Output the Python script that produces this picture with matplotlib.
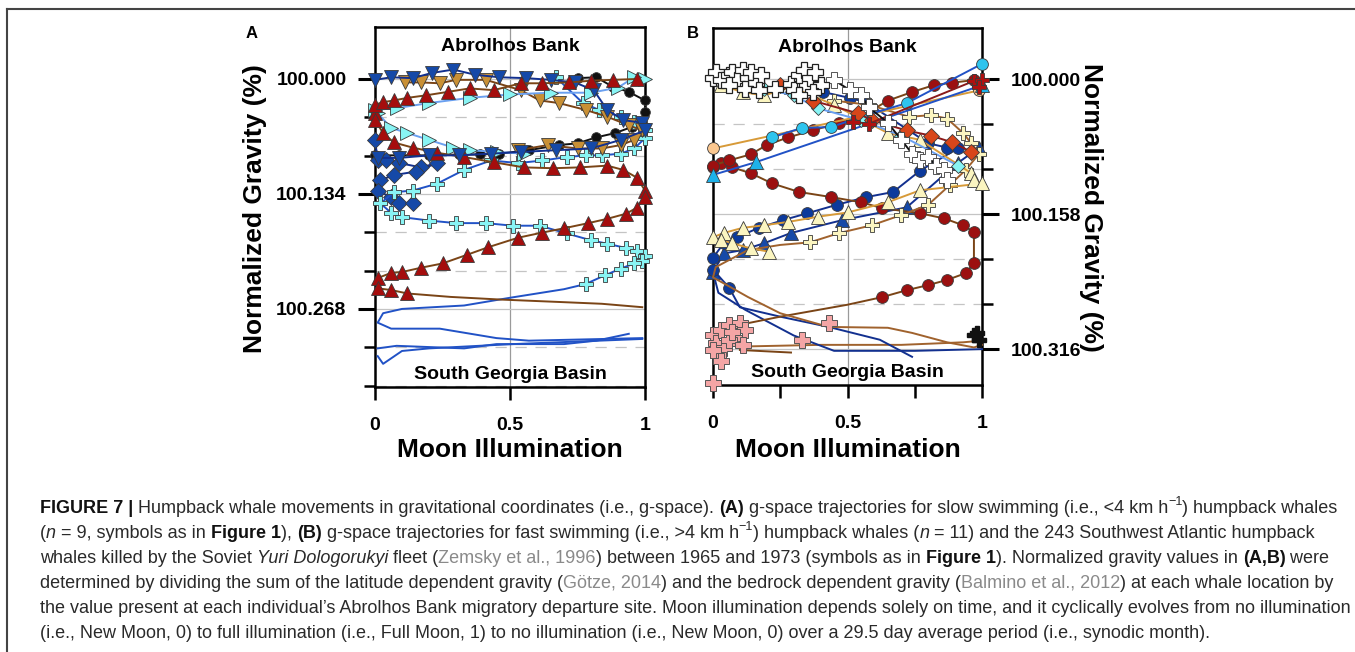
import matplotlib
matplotlib.use("Agg")
import matplotlib.pyplot as plt
from matplotlib import font_manager
from matplotlib.lines import Line2D
from matplotlib.font_manager import FontProperties

plt.rcParams['font.family'] = ['Liberation Sans', 'DejaVu Sans']

# ---------------- panel A: slow swimming whales ----------------
A_black_x = [0.0, 0.09, 0.20, 0.31, 0.39, 0.46, 0.57, 0.68, 0.75, 0.82, 0.89, 0.95, 0.99, 1.0, 1.0, 0.94, 0.88, 0.82, 0.75]
A_black_g = [100.089, 100.089, 100.089, 100.088, 100.088, 100.087, 100.083, 100.077, 100.075, 100.068, 100.063,
             100.056, 100.050, 100.039, 100.025, 100.015, 100.009, 99.998, 99.999]

A_bluev_x = [0.0, 0.06, 0.14, 0.21, 0.29, 0.37, 0.46, 0.56, 0.65, 0.74, 0.81, 0.86, 0.92, 0.99, 1.0, 0.91, 0.80,
             0.67, 0.54, 0.43, 0.31, 0.20, 0.09, 0.01]
A_bluev_g = [100.001, 99.998, 99.999, 99.993, 99.989, 99.995, 99.998, 99.999, 100.001, 100.004, 100.013, 100.036,
             100.048, 100.051, 100.060, 100.071, 100.081, 100.083, 100.085, 100.087, 100.089, 100.089, 100.092, 100.092]

A_gold_x = [0.11, 0.17, 0.24, 0.30, 0.41, 0.54, 0.61, 0.68, 0.78, 0.86, 0.94, 0.99, 0.96, 0.91, 0.84, 0.75, 0.64, 0.53]
A_gold_g = [100.004, 100.004, 100.005, 100.001, 100.001, 100.013, 100.025, 100.028, 100.036, 100.044, 100.054,
            100.060, 100.071, 100.077, 100.081, 100.081, 100.077, 100.083]

A_red1_x = [0.0, 0.03, 0.07, 0.12, 0.19, 0.27, 0.35, 0.44, 0.54, 0.62, 0.72, 0.80, 0.88, 0.97]
A_red1_g = [100.030, 100.027, 100.025, 100.022, 100.019, 100.015, 100.011, 100.013, 100.005, 100.005, 100.004,
            100.002, 100.001, 100.000]

A_red2_x = [0.0, 0.0, 0.03, 0.07, 0.14, 0.23, 0.33, 0.44, 0.55, 0.66, 0.76, 0.86, 0.92, 0.97, 1.0, 1.0, 0.97, 0.93,
            0.86, 0.79, 0.70, 0.62, 0.53, 0.42, 0.34, 0.25, 0.17, 0.10, 0.06, 0.01, 0.01, 0.06, 0.12,
            0.28, 0.46, 0.69, 0.84, 0.99]
A_red2_g = [100.040, 100.048, 100.063, 100.074, 100.080, 100.086, 100.091, 100.097, 100.103, 100.104, 100.103,
            100.101, 100.106, 100.115, 100.130, 100.138, 100.150, 100.157, 100.163, 100.168, 100.174, 100.179,
            100.185, 100.196, 100.205, 100.215, 100.220, 100.225, 100.226, 100.232, 100.244, 100.246, 100.250,
            100.254, 100.257, 100.260, 100.262, 100.266]
A_red2_marked = 33

A_cyantri_x = [1.0, 0.96, 0.90, 0.80, 0.65, 0.50, 0.35, 0.20, 0.08, 0.0, 0.01, 0.06, 0.12, 0.20, 0.29, 0.35, 0.45, 0.55]
A_cyantri_g = [100.000, 99.998, 100.010, 100.016, 100.016, 100.018, 100.022, 100.028, 100.034, 100.036, 100.040,
               100.057, 100.063, 100.071, 100.080, 100.083, 100.085, 100.087]

A_cyanp_x = [0.67, 0.77, 0.83, 0.91, 0.96, 1.0, 1.0, 0.96, 0.91, 0.84, 0.78, 0.71, 0.62, 0.53, 0.43, 0.33, 0.23,
             0.14, 0.07, 0.02, 0.06, 0.10, 0.20, 0.30, 0.41, 0.51, 0.61, 0.71, 0.80, 0.86, 0.93, 0.97, 1.0, 0.99,
             0.96, 0.91, 0.85, 0.78,
             0.70, 0.50, 0.33, 0.10, 0.03, 0.01, 0.06, 0.24, 0.45, 0.57, 0.99]
A_cyanp_g = [99.998, 100.028, 100.036, 100.044, 100.050, 100.060, 100.069, 100.081, 100.087, 100.089, 100.089,
             100.091, 100.095, 100.098, 100.095, 100.106, 100.122, 100.130, 100.132, 100.145, 100.156, 100.161,
             100.165, 100.168, 100.168, 100.171, 100.171, 100.180, 100.188, 100.192, 100.197, 100.200, 100.206,
             100.212, 100.215, 100.221, 100.229, 100.239,
             100.245, 100.255, 100.264, 100.268, 100.273, 100.284, 100.291, 100.291, 100.302, 100.305, 100.302]
A_cyanp_marked = 38

A_diam_x = [0.0, 0.01, 0.04, 0.09, 0.17, 0.23, 0.15, 0.07, 0.02, 0.01, 0.06, 0.09, 0.14]
A_diam_g = [100.071, 100.095, 100.095, 100.098, 100.103, 100.098, 100.108, 100.112, 100.118, 100.130, 100.138,
            100.144, 100.145]

A_tail2_x = [0.01, 0.08, 0.33, 0.45, 0.70, 0.82, 0.94]
A_tail2_g = [100.314, 100.311, 100.314, 100.309, 100.309, 100.305, 100.297]
A_tail3_x = [0.01, 0.03, 0.10, 0.20, 0.51, 0.99]
A_tail3_g = [100.323, 100.332, 100.317, 100.314, 100.309, 100.303]

# ---------------- panel B: fast swimming whales and Soviet catches ----------------
B_white_x = [0.0, 0.01, 0.03, 0.06, 0.07, 0.09, 0.11, 0.13, 0.14, 0.16, 0.18, 0.06, 0.12, 0.17, 0.23, 0.29, 0.30,
             0.32, 0.34, 0.36, 0.38, 0.40, 0.37, 0.32]
B_white_g = [99.998, 99.992, 100.001, 99.995, 99.992, 100.001, 99.989, 99.998, 99.992, 100.004, 99.995, 100.007,
             100.011, 100.013, 100.011, 100.005, 100.013, 99.995, 99.989, 99.999, 99.992, 100.007, 100.015, 100.019]
B_wdiag_x = [0.45, 0.51, 0.55, 0.58, 0.65, 0.70, 0.74, 0.77, 0.80, 0.83, 0.86, 0.87]
B_wdiag_g = [100.001, 100.013, 100.019, 100.033, 100.051, 100.071, 100.087, 100.095, 100.091, 100.101, 100.106,
             100.118]

B_ytri_x = [0.03, 0.11, 0.19, 0.29, 0.45, 0.65, 0.77, 0.96, 0.97, 1.0, 0.77, 0.65, 0.50, 0.39, 0.28, 0.19, 0.11,
            0.04, 0.0, 0.03, 0.07, 0.14, 0.21]
B_ytri_g = [100.007, 100.015, 100.019, 100.009, 100.030, 100.063, 100.071, 100.110, 100.118, 100.122, 100.130,
            100.144, 100.156, 100.161, 100.167, 100.171, 100.174, 100.180, 100.185, 100.188, 100.192, 100.198,
            100.202]

B_yplus_x = [0.45, 0.58, 0.73, 0.81, 0.87, 0.93, 0.96, 0.99, 0.94, 0.88, 0.80, 0.70, 0.59, 0.47, 0.36,
             0.25, 0.13, 0.01, 0.0, 0.04, 0.13, 0.25, 0.43, 0.65, 0.74, 0.87, 0.97, 1.0]
B_yplus_g = [100.025, 100.030, 100.044, 100.042, 100.046, 100.063, 100.075, 100.087, 100.106, 100.124, 100.147,
             100.159, 100.171, 100.180, 100.191,
             100.194, 100.200, 100.220, 100.232, 100.239, 100.255, 100.274, 100.290, 100.291, 100.297, 100.308,
             100.314, 100.311]
B_yplus_marked = 15

B_red1_x = [0.0, 0.03, 0.07, 0.14, 0.22, 0.32, 0.44, 0.55, 0.63, 0.77, 0.86, 0.93, 0.97, 0.97, 0.94, 0.87, 0.80,
            0.72, 0.63, 0.50, 0.25, 0.06, 0.01]
B_red1_g = [100.103, 100.098, 100.103, 100.110, 100.122, 100.132, 100.138, 100.144, 100.151, 100.157, 100.163,
            100.171, 100.179, 100.215, 100.227, 100.235, 100.241, 100.247, 100.255, 100.264, 100.278, 100.290,
            100.297]
B_red1_marked = 19

B_red2_x = [0.0, 0.06, 0.14, 0.20, 0.28, 0.37, 0.47, 0.55, 0.65, 0.74, 0.82, 0.89, 0.97]
B_red2_g = [100.101, 100.095, 100.088, 100.077, 100.068, 100.060, 100.051, 100.044, 100.025, 100.015, 100.007,
            100.004, 100.001]

B_cyanc_x = [0.22, 0.33, 0.44, 0.55, 0.72, 1.0]
B_cyanc_g = [100.068, 100.057, 100.056, 100.044, 100.028, 99.982]

B_cyant_x = [0.0, 0.16, 1.0]
B_cyant_g = [100.112, 100.097, 100.007]

B_peach_x = [0.0, 0.99]
B_peach_g = [100.081, 100.013]

B_odiam_x = [0.25, 0.37, 0.54, 0.59, 0.72, 0.81, 0.89, 0.96]
B_odiam_g = [100.007, 100.025, 100.040, 100.048, 100.060, 100.066, 100.074, 100.085]

B_redp_x = [0.52, 0.58, 0.97, 1.0, 0.99]
B_redp_g = [100.050, 100.052, 100.002, 100.001, 100.009]

B_lcd_x = [0.19, 0.30, 0.39, 0.55, 0.70, 0.91]
B_lcd_g = [100.011, 100.019, 100.034, 100.048, 100.066, 100.101]

B_navy_x = [0.41, 0.51, 0.57, 0.80, 0.87, 0.91, 0.77, 0.67, 0.57, 0.46, 0.35, 0.26, 0.17, 0.09, 0.04, 0.0, 0.0,
            0.06, 0.10, 0.25, 0.43, 0.62, 0.74]
B_navy_g = [100.015, 100.022, 100.027, 100.075, 100.080, 100.081, 100.107, 100.132, 100.138, 100.147, 100.157,
            100.165, 100.174, 100.185, 100.192, 100.209, 100.223, 100.244, 100.267, 100.278, 100.290, 100.305,
            100.325]
B_navy_marked = 18

B_btri_x = [0.99, 0.91, 0.72, 0.48, 0.29, 0.19, 0.11, 0.04, 0.0, 0.02, 0.12, 0.30, 0.45, 0.75, 1.0]
B_btri_g = [100.080, 100.098, 100.150, 100.165, 100.180, 100.192, 100.200, 100.204, 100.226, 100.250, 100.270,
            100.300, 100.318, 100.318, 100.316]
B_btri_marked = 9

B_pink_x = [0.0, 0.01, 0.03, 0.04, 0.06, 0.08, 0.10, 0.12, 0.02, 0.0, 0.06, 0.03, 0.11, 0.07, 0.33, 0.43, 0.0]
B_pink_g = [100.300, 100.309, 100.294, 100.315, 100.288, 100.303, 100.285, 100.294, 100.323, 100.317, 100.305,
            100.330, 100.311, 100.296, 100.305, 100.285, 100.356]

B_blackp_x = [0.97, 0.99, 0.98]
B_blackp_g = [100.300, 100.305, 100.297]

B_brown1_x = [0.10, 0.40, 0.70, 0.93, 1.0]
B_brown1_g = [100.313, 100.311, 100.311, 100.308, 100.306]
B_brown2_x = [0.10, 0.29]
B_brown2_g = [100.317, 100.320]

# axis ticks
A_major = [100.000, 100.134, 100.268]
A_minor = [100.0447, 100.0893, 100.1787, 100.2233, 100.3127, 100.3573]
B_major = [100.000, 100.158, 100.316]
B_minor = [100.0527, 100.1053, 100.2107, 100.2633]

W, H = 1355, 652
fig = plt.figure(figsize=(W / 100, H / 100), dpi=100)

axA = fig.add_axes([375 / W, 1 - 387 / H, 270 / W, 360 / H])
axB = fig.add_axes([713 / W, 1 - 385 / H, 269 / W, 357 / H])

EDGE = '#3a3a3a'


def trace(ax, x, g, line, face=None, marker=None, ms=9.5, marked=None, lw=1.4, z=3):
    if marker is None:
        ax.plot(x, g, color=line, lw=lw, zorder=z)
        return
    n = len(x) if marked is None else marked
    ax.plot(x, g, color=line, lw=lw, marker=marker, ms=ms, mfc=face, mec=EDGE, mew=0.6,
            markevery=slice(0, n), zorder=z, clip_on=False)


def frame(ax, ylim, major, minor, right=False, xminor=False):
    ax.set_xlim(0, 1)
    ax.set_ylim(ylim[1], ylim[0])
    ax.axvline(0.5, color='#9a9a9a', lw=0.9, zorder=0)
    for m in major:
        ax.axhline(m, color='#c4c4c4', lw=0.9, zorder=0)
    for m in minor:
        ax.axhline(m, color='#c4c4c4', lw=0.9, ls=(0, (9, 7)), zorder=0)
    ax.set_yticks(major)
    ax.set_yticklabels(['%.3f' % v for v in major])
    ax.set_yticks(minor, minor=True)
    if xminor:
        ax.set_xticks([0, 0.25, 0.5, 0.75, 1])
        ax.set_xticklabels(['0', '', '0.5', '', '1'])
    else:
        ax.set_xticks([0, 0.5, 1])
        ax.set_xticklabels(['0', '0.5', '1'])
    for s in ax.spines.values():
        s.set_linewidth(1.8)
    ax.tick_params(axis='y', which='major', direction='out', length=12.5, width=2.2, pad=8,
                   labelsize=14, left=not right, right=right, labelleft=not right, labelright=right)
    ax.tick_params(axis='y', which='minor', direction='out', length=8, width=1.8,
                   left=not right, right=right)
    ax.tick_params(axis='x', which='major', direction='out', length=9.5, width=1.8, pad=12, labelsize=14)
    for t in ax.get_xticklabels() + ax.get_yticklabels():
        t.set_fontweight('bold')


frame(axA, (99.9394, 100.359), A_major, A_minor)
frame(axB, (99.940, 100.358), B_major, B_minor, right=True, xminor=True)

# panel A trajectories
ROYAL, NAVY, BLUE_LN = '#1549a8', '#12308f', '#2152c6'
BROWN, DRED, GOLD = '#7a4416', '#a50d0d', '#c99035'
CYAN, LBLUE = '#88f4f4', '#6aa0f0'

trace(axA, A_tail2_x, A_tail2_g, BLUE_LN)
trace(axA, A_tail3_x, A_tail3_g, BLUE_LN)
trace(axA, A_black_x, A_black_g, '#111111', '#111111', 'o', ms=7)
trace(axA, A_diam_x, A_diam_g, NAVY, ROYAL, 'D', ms=8.5)
trace(axA, A_cyanp_x, A_cyanp_g, BLUE_LN, CYAN, 'P', ms=10, marked=A_cyanp_marked)
trace(axA, A_gold_x, A_gold_g, BROWN, GOLD, 'v', ms=10)
trace(axA, A_cyantri_x, A_cyantri_g, LBLUE, CYAN, '>', ms=9.5)
trace(axA, A_red2_x, A_red2_g, BROWN, DRED, '^', ms=10, marked=A_red2_marked)
trace(axA, A_bluev_x, A_bluev_g, NAVY, ROYAL, 'v', ms=10)
trace(axA, A_red1_x, A_red1_g, BROWN, DRED, '^', ms=10)

# panel B trajectories
PALE, ORANGE_LN, LBROWN = '#fbf5c0', '#d79a38', '#a0622d'
trace(axB, B_brown1_x, B_brown1_g, LBROWN)
trace(axB, B_brown2_x, B_brown2_g, BROWN)
trace(axB, B_btri_x, B_btri_g, NAVY, ROYAL, '^', ms=9.5, marked=B_btri_marked)
trace(axB, B_navy_x, B_navy_g, NAVY, '#0c3a9c', 'o', ms=8.5, marked=B_navy_marked)
trace(axB, B_red1_x, B_red1_g, BROWN, '#9c1010', 'o', ms=8.5, marked=B_red1_marked)
trace(axB, B_yplus_x, B_yplus_g, LBROWN, PALE, 'P', ms=10, marked=B_yplus_marked)
trace(axB, B_ytri_x, B_ytri_g, ORANGE_LN, PALE, '^', ms=10)
trace(axB, B_red2_x, B_red2_g, BROWN, '#9c1010', 'o', ms=8.5)
trace(axB, B_peach_x, B_peach_g, ORANGE_LN, '#fcc890', 'o', ms=8.5)
trace(axB, B_cyant_x, B_cyant_g, BLUE_LN, '#1eb2ea', '^', ms=9.5)
trace(axB, B_cyanc_x, B_cyanc_g, BLUE_LN, '#2ec4ee', 'o', ms=8.5)
trace(axB, B_lcd_x, B_lcd_g, LBLUE, CYAN, 'D', ms=7)
trace(axB, B_odiam_x, B_odiam_g, '#8b1a1a', '#d8461a', 'D', ms=8.5)
trace(axB, B_redp_x, B_redp_g, '#8b1a1a', '#b01010', 'P', ms=10)
trace(axB, B_wdiag_x, B_wdiag_g, '#111111', 'white', 'P', ms=11)
axB.plot(B_white_x, B_white_g, ls='none', marker='P', ms=11, mfc='white', mec='#222222', mew=0.9,
         zorder=4, clip_on=False)
axB.plot(B_pink_x, B_pink_g, ls='none', marker='P', ms=11, mfc='#f4a5a5', mec='#555555', mew=0.7,
         zorder=4, clip_on=False)
axB.plot(B_blackp_x, B_blackp_g, ls='none', marker='P', ms=10, mfc='#111111', mec='#111111',
         zorder=4, clip_on=False)

# region names inside each panel
for ax in (axA, axB):
    ax.text(0.5, 0.945, 'Abrolhos Bank', transform=ax.transAxes, ha='center', va='center',
            fontsize=14, fontweight='bold', zorder=6)
    ax.text(0.5, 0.036, 'South Georgia Basin', transform=ax.transAxes, ha='center', va='center',
            fontsize=14, fontweight='bold', zorder=6)

fig.text(252 / W, 1 - 33 / H, 'A', fontsize=12, fontweight='bold', ha='center', va='center')
fig.text(693 / W, 1 - 33 / H, 'B', fontsize=12, fontweight='bold', ha='center', va='center')
fig.text(255 / W, 1 - 209 / H, 'Normalized Gravity (%)', rotation=90, fontsize=19, fontweight='bold',
         ha='center', va='center')
fig.text(1091 / W, 1 - 207 / H, 'Normalized Gravity (%)', rotation=-90, fontsize=19, fontweight='bold',
         ha='center', va='center')
fig.text(510 / W, 1 - 450 / H, 'Moon Illumination', fontsize=19, fontweight='bold', ha='center', va='center')
fig.text(848 / W, 1 - 450 / H, 'Moon Illumination', fontsize=19, fontweight='bold', ha='center', va='center')

# frame around the figure block
fig.add_artist(Line2D([7 / W, 1], [1 - 9 / H, 1 - 9 / H], color='#444444', lw=1.5, transform=fig.transFigure))
fig.add_artist(Line2D([7 / W, 7 / W], [0, 1 - 9 / H], color='#444444', lw=1.5, transform=fig.transFigure))

# caption, laid out piece by piece so that bold / italic / reference runs follow each other
names = {f.name for f in font_manager.fontManager.ttflist}
cap_family = 'Liberation Sans Narrow' if 'Liberation Sans Narrow' in names else 'Liberation Sans'
CAP_COLOR = '#2a2a2a'

caption = [
    [('FIGURE 7 |', 'b'), (' Humpback whale movements in gravitational coordinates (i.e., g-space). ', ''),
     ('(A)', 'b'), (' g-space trajectories for slow swimming (i.e., <4 km h', ''), ('\u22121', 'sup'),
     (') humpback whales', '')],
    [('(', ''), ('n', 'i'), (' = 9, symbols as in ', ''), ('Figure 1', 'b'), ('), ', ''), ('(B)', 'b'),
     (' g-space trajectories for fast swimming (i.e., >4 km h', ''), ('\u22121', 'sup'),
     (') humpback whales (', ''), ('n', 'i'), (' = 11) and the 243 Southwest Atlantic humpback', '')],
    [('whales killed by the Soviet ', ''), ('Yuri Dologorukyi', 'i'), (' fleet (', ''),
     ('Zemsky et al., 1996', 'ref'), (') between 1965 and 1973 (symbols as in ', ''), ('Figure 1', 'b'),
     ('). Normalized gravity values in ', ''), ('(A,B)', 'b'), (' were', '')],
    [('determined by dividing the sum of the latitude dependent gravity (', ''), ('G\u00f6tze, 2014', 'ref'),
     (') and the bedrock dependent gravity (', ''), ('Balmino et al., 2012', 'ref'),
     (') at each whale location by', '')],
    [('the value present at each individual\u2019s Abrolhos Bank migratory departure site. Moon illumination '
      'depends solely on time, and it cyclically evolves from no illumination', '')],
    [('(i.e., New Moon, 0) to full illumination (i.e., Full Moon, 1) to no illumination (i.e., New Moon, 0) '
      'over a 29.5 day average period (i.e., synodic month).', '')],
]

rend = fig.canvas.get_renderer()


def run_props(style, size):
    kw = dict(family=cap_family, size=size)
    if style == 'b':
        kw['weight'] = 'bold'
    elif style == 'i':
        kw['style'] = 'italic'
    elif style == 'sup':
        kw['size'] = size * 0.7
    return FontProperties(**kw)


def run_width(text, prop):
    full = rend.get_text_width_height_descent('|' + text + '|', prop, False)[0]
    bars = rend.get_text_width_height_descent('||', prop, False)[0]
    return full - bars


def line_width(parts, size):
    return sum(run_width(t, run_props(s, size)) for t, s in parts)


base = 12.0
cap_size = base * 1300 / line_width(caption[0], base)

baselines = [513, 538, 563, 588, 613, 638]
for parts, yb in zip(caption, baselines):
    x = 40
    for text, style in parts:
        prop = run_props(style, cap_size)
        color = '#111111' if style == 'b' else ('#8a8a8a' if style == 'ref' else CAP_COLOR)
        rise = cap_size * 0.42 * 100 / 72 if style == 'sup' else 0
        fig.text(x / W, 1 - (yb - rise) / H, text, fontproperties=prop, color=color,
                 ha='left', va='baseline')
        x += run_width(text, prop)

fig.savefig('out.png', dpi=100)
